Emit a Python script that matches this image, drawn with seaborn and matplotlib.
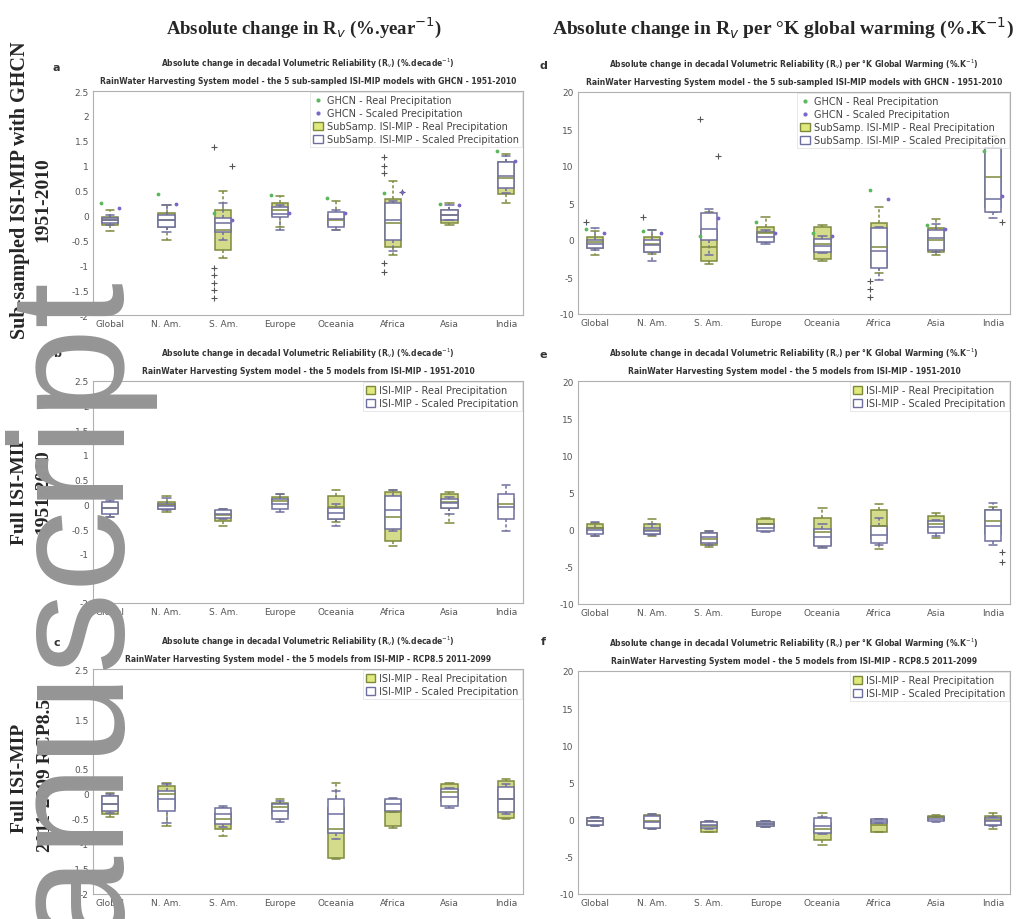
import numpy as np
import pandas as pd
import matplotlib
matplotlib.use("Agg")
import matplotlib.pyplot as plt
import seaborn as sns
from matplotlib.patches import Patch
from matplotlib.lines import Line2D

sns.set_style("white")
plt.rcParams['font.family'] = ['DejaVu Sans']

REGIONS = ['Global', 'N. Am.', 'S. Am.', 'Europe', 'Oceania', 'Africa', 'Asia', 'India']
KINDS = ['Real', 'Scaled']

# five-number summaries [whisker low, q1, median, q3, whisker high] per region
A_REAL = [[-0.32, -0.2, -0.1, -0.03, 0.1], [-0.5, -0.23, -0.1, 0.04, 0.2], [-0.85, -0.7, -0.3, 0.1, 0.5],
          [-0.23, 0.0, 0.1, 0.26, 0.4], [-0.3, -0.2, -0.1, 0.0, 0.3], [-0.8, -0.64, -0.15, 0.34, 0.7],
          [-0.2, -0.15, 0.0, 0.1, 0.24], [0.26, 0.44, 0.75, 1.08, 1.24]]
A_SCALED = [[-0.2, -0.16, -0.1, -0.06, 0.0], [-0.34, -0.23, -0.1, 0.0, 0.2], [-0.5, -0.33, -0.15, -0.06, 0.24],
            [-0.3, -0.04, 0.02, 0.16, 0.2], [-0.3, -0.23, -0.08, 0.07, 0.1], [-0.71, -0.5, -0.1, 0.24, 0.3],
            [-0.1, -0.1, 0.0, 0.1, 0.2], [0.45, 0.55, 0.8, 1.08, 1.2]]
A_REAL_OUT = [[], [], [1.38, -1.05, -1.2, -1.35, -1.5, -1.65], [], [], [0.85, 1.0, 1.18, -0.95, -1.14], [], []]
A_SCALED_OUT = [[], [], [1.0], [], [], [0.47], [], []]
GHCN_A_REAL = [0.24, 0.44, 0.05, 0.42, 0.35, 0.45, 0.22, 1.3]
GHCN_A_SCALED = [0.15, 0.22, -0.1, 0.05, 0.05, 0.47, 0.2, 1.1]

D_REAL = [[-2.0, -1.1, -0.3, 0.46, 1.2], [-1.9, -1.6, -0.5, 0.46, 1.3], [-3.3, -2.9, -1.0, 1.4, 3.8],
          [-0.3, 0.0, 0.9, 1.8, 3.15], [-2.8, -2.5, -0.5, 1.8, 2.0], [-4.5, -3.6, -1.0, 2.3, 4.5],
          [-2.0, -1.6, 0.0, 1.6, 2.9], [3.8, 4.5, 8.5, 12.4, 14.0]]
D_SCALED = [[-1.3, -1.1, -0.5, 0.0, 1.6], [-2.9, -1.6, -0.7, 0.0, 1.4], [-2.0, 0.0, 1.5, 3.6, 4.2],
            [-0.5, -0.3, 0.4, 1.1, 1.3], [-1.8, -1.6, -0.8, 0.2, 0.6], [-5.4, -3.8, -1.5, 1.6, 1.8],
            [-1.6, -1.3, 0.3, 1.4, 2.2], [3.0, 3.8, 5.5, 12.4, 13.5]]
D_REAL_OUT = [[2.4], [3.15], [16.4], [], [], [-5.5, -6.6, -7.7], [], []]
D_SCALED_OUT = [[], [], [11.3], [], [], [], [], [2.4]]
GHCN_D_REAL = [1.5, 1.2, 0.5, 2.5, 1.0, 6.8, 2.0, 12.0]
GHCN_D_SCALED = [1.0, 1.0, 3.0, 1.0, 0.5, 5.6, 1.5, 6.0]

B_REAL = [[-0.25, -0.17, -0.08, 0.0, 0.05], [-0.15, -0.1, -0.02, 0.04, 0.17], [-0.44, -0.34, -0.22, -0.13, -0.1],
          [-0.05, 0.0, 0.07, 0.14, 0.2], [-0.35, -0.3, -0.05, 0.17, 0.3], [-0.84, -0.74, -0.25, 0.24, 0.3],
          [-0.37, -0.07, 0.05, 0.2, 0.25], [-0.2, -0.1, 0.0, 0.1, 0.15]]
B_SCALED = [[-0.25, -0.2, -0.07, 0.04, 0.08], [-0.12, -0.1, -0.03, 0.0, 0.12], [-0.3, -0.28, -0.2, -0.12, -0.1],
            [-0.15, -0.1, 0.0, 0.1, 0.2], [-0.44, -0.3, -0.18, -0.07, 0.0], [-0.55, -0.51, -0.12, 0.17, 0.3],
            [-0.2, -0.07, 0.02, 0.1, 0.15], [-0.55, -0.3, -0.05, 0.2, 0.4]]

E_REAL = [[-0.9, -0.4, 0.2, 0.7, 0.9], [-0.8, -0.6, 0.0, 0.7, 1.4], [-2.3, -2.0, -1.2, -0.4, -0.2],
          [0.1, 0.3, 0.8, 1.4, 1.6], [-2.3, -2.0, -0.3, 1.6, 2.9], [-2.6, -1.3, 0.5, 2.7, 3.4],
          [-1.1, -0.2, 0.8, 1.8, 2.3], [-0.8, -0.6, 1.2, 2.7, 3.0]]
E_SCALED = [[-0.8, -0.6, -0.1, 0.25, 1.0], [-0.7, -0.6, -0.2, 0.25, 0.7], [-2.0, -1.8, -1.0, -0.4, -0.2],
            [-0.3, -0.2, 0.2, 0.7, 0.8], [-2.4, -2.2, -1.0, 0.04, 0.7], [-2.0, -1.8, -0.7, 0.5, 1.6],
            [-0.8, -0.4, 0.3, 1.1, 1.3], [-2.0, -1.5, 0.5, 2.7, 3.6]]
E_SCALED_OUT = [[], [], [], [], [], [], [], [-3.0, -4.3]]

C_REAL = [[-0.45, -0.4, -0.2, -0.03, 0.03], [-0.63, -0.27, 0.0, 0.17, 0.23], [-0.83, -0.7, -0.5, -0.37, -0.27],
          [-0.5, -0.4, -0.25, -0.17, -0.1], [-1.3, -1.27, -0.7, -0.27, 0.23], [-0.67, -0.63, -0.35, -0.13, -0.1],
          [-0.17, -0.13, 0.05, 0.2, 0.23], [-0.5, -0.47, -0.1, 0.27, 0.3]]
C_SCALED = [[-0.37, -0.33, -0.2, -0.03, 0.0], [-0.57, -0.33, -0.1, 0.07, 0.2], [-0.65, -0.6, -0.4, -0.27, -0.23],
            [-0.55, -0.5, -0.33, -0.2, -0.13], [-0.9, -0.77, -0.4, -0.1, 0.07], [-0.36, -0.33, -0.2, -0.1, -0.07],
            [-0.27, -0.23, -0.05, 0.1, 0.13], [-0.4, -0.35, -0.1, 0.15, 0.2]]

F_REAL = [[-0.8, -0.7, -0.2, 0.2, 0.3], [-1.2, -1.1, -0.2, 0.67, 0.8], [-1.7, -1.6, -0.9, -0.27, -0.2],
          [-1.0, -0.9, -0.6, -0.3, -0.2], [-3.4, -2.7, -1.3, -0.5, 0.9], [-1.7, -1.6, -0.7, 0.0, 0.1],
          [-0.1, 0.0, 0.3, 0.5, 0.6], [-1.3, -0.7, 0.0, 0.45, 0.9]]
F_SCALED = [[-0.8, -0.7, -0.2, 0.2, 0.3], [-1.2, -1.1, -0.3, 0.5, 0.7], [-1.2, -1.1, -0.7, -0.3, -0.2],
            [-1.0, -0.9, -0.6, -0.3, -0.2], [-1.9, -1.8, -0.8, 0.2, 0.4], [-0.5, -0.45, -0.2, 0.1, 0.15],
            [-0.3, -0.2, 0.1, 0.35, 0.4], [-0.8, -0.7, -0.2, 0.2, 0.3]]

LEFT_TICKS = [-2, -1.5, -1, -0.5, 0, 0.5, 1, 1.5, 2, 2.5]
LEFT_LABELS = ['-2', '-1.5', '-1', '-0.5', '0', '0.5', '1', '1.5', '2', '2.5']
RIGHT_TICKS = [-10, -5, 0, 5, 10, 15, 20]
RIGHT_LABELS = ['-10', '-5', '0', '5', '10', '15', '20']

T1_LEFT = "Absolute change in decadal Volumetric Reliability (R$_v$) (%.decade$^{-1}$)"
T1_RIGHT = "Absolute change in decadal Volumetric Reliability (R$_v$) per \u00b0K Global Warming (%.K$^{-1}$)"
T2_ROW1 = "RainWater Harvesting System model - the 5 sub-sampled ISI-MIP models with GHCN - 1951-2010"
T2_ROW2 = "RainWater Harvesting System model - the 5 models from ISI-MIP - 1951-2010"
T2_ROW3 = "RainWater Harvesting System model - the 5 models from ISI-MIP - RCP8.5 2011-2099"

REAL_FILL, REAL_EDGE = '#dfe97c', '#7d8a3e'
SCALED_FILL, SCALED_EDGE = '#ffffff', '#6f6f9f'
GHCN_REAL_C, GHCN_SCALED_C = '#5cb85c', '#7a66c9'
OFFS = {'Real': -0.16, 'Scaled': 0.16}

W, H = 1021, 920
fig = plt.figure(figsize=(W / 100, H / 100), dpi=100)


def add_ax(x0, y0, x1, y1):
    return fig.add_axes([x0 / W, 1 - y1 / H, (x1 - x0) / W, (y1 - y0) / H])


def panel(ax, real, scaled, ylim, ticks, labels, t1, t2, legend_kind,
          real_out=None, scaled_out=None, ghcn_real=None, ghcn_scaled=None):
    rows = []
    for kind, summ in (('Real', real), ('Scaled', scaled)):
        for reg, vals in zip(REGIONS, summ):
            for v in vals:
                rows.append({'region': reg, 'kind': kind, 'value': v})
    df = pd.DataFrame(rows)
    for kind, fill, edge in (('Real', REAL_FILL, REAL_EDGE), ('Scaled', SCALED_FILL, SCALED_EDGE)):
        sns.boxplot(data=df[df['kind'] == kind], x='region', y='value', hue='kind',
                    hue_order=KINDS, order=REGIONS, palette={'Real': REAL_FILL, 'Scaled': SCALED_FILL},
                    linecolor=edge, width=0.64, gap=0.55, whis=(0, 100), showfliers=False,
                    linewidth=1.1, legend=False, ax=ax,
                    whiskerprops={'linestyle': (0, (2, 1.5))})
    for kind, outs, edge in (('Real', real_out, REAL_EDGE), ('Scaled', scaled_out, SCALED_EDGE)):
        if outs is None:
            continue
        for i, vals in enumerate(outs):
            if vals:
                ax.scatter([i + OFFS[kind]] * len(vals), vals, marker='+', s=14,
                           color='#555555', linewidths=0.8, zorder=4)
    if ghcn_real is not None:
        ax.scatter(np.arange(len(REGIONS)) + OFFS['Real'], ghcn_real, marker='.', s=12,
                   color=GHCN_REAL_C, zorder=5)
        ax.scatter(np.arange(len(REGIONS)) + OFFS['Scaled'], ghcn_scaled, marker='.', s=12,
                   color=GHCN_SCALED_C, zorder=5)
    ax.set_xlim(-0.3, 7.3)
    ax.set_ylim(*ylim)
    ax.set_yticks(ticks)
    ax.set_yticklabels(labels)
    ax.set_xlabel('')
    ax.set_ylabel('')
    ax.tick_params(axis='both', labelsize=6.5, colors='#555555', length=2, direction='in', pad=3)
    for sp in ax.spines.values():
        sp.set_visible(True)
        sp.set_color('#b0b0b0')
        sp.set_linewidth(0.8)
    ax.text(0.5, 1.095, t1, transform=ax.transAxes, ha='center', va='bottom', fontsize=5.5,
            fontweight='bold', color='#333333')
    ax.text(0.5, 1.025, t2, transform=ax.transAxes, ha='center', va='bottom', fontsize=5.5,
            fontweight='bold', color='#333333')
    if legend_kind == 'ghcn':
        handles = [Line2D([], [], ls='', marker='.', color=GHCN_REAL_C, ms=4),
                   Line2D([], [], ls='', marker='.', color=GHCN_SCALED_C, ms=4),
                   Patch(facecolor=REAL_FILL, edgecolor=REAL_EDGE),
                   Patch(facecolor=SCALED_FILL, edgecolor=SCALED_EDGE)]
        labs = ['GHCN - Real Precipitation', 'GHCN - Scaled Precipitation',
                'SubSamp. ISI-MIP - Real Precipitation', 'SubSamp. ISI-MIP - Scaled Precipitation']
    else:
        handles = [Patch(facecolor=REAL_FILL, edgecolor=REAL_EDGE),
                   Patch(facecolor=SCALED_FILL, edgecolor=SCALED_EDGE)]
        labs = ['ISI-MIP - Real Precipitation', 'ISI-MIP - Scaled Precipitation']
    leg = ax.legend(handles, labs, loc='upper right', fontsize=7, frameon=True,
                    handlelength=1.0, handleheight=0.9, handletextpad=0.4, labelspacing=0.3,
                    borderpad=0.3, borderaxespad=0.15, fancybox=False)
    leg.get_frame().set_edgecolor('#dddddd')
    leg.get_frame().set_linewidth(0.6)
    for t in leg.get_texts():
        t.set_color('#444444')


ax_a = add_ax(93, 92, 523, 316)
ax_d = add_ax(578, 93, 1010, 315)
ax_b = add_ax(93, 382, 523, 604)
ax_e = add_ax(578, 382, 1010, 605)
ax_c = add_ax(93, 670, 523, 895)
ax_f = add_ax(578, 672, 1010, 895)

panel(ax_a, A_REAL, A_SCALED, (-2, 2.5), LEFT_TICKS, LEFT_LABELS, T1_LEFT, T2_ROW1, 'ghcn',
      A_REAL_OUT, A_SCALED_OUT, GHCN_A_REAL, GHCN_A_SCALED)
panel(ax_d, D_REAL, D_SCALED, (-10, 20), RIGHT_TICKS, RIGHT_LABELS, T1_RIGHT, T2_ROW1, 'ghcn',
      D_REAL_OUT, D_SCALED_OUT, GHCN_D_REAL, GHCN_D_SCALED)
panel(ax_b, B_REAL, B_SCALED, (-2, 2.5), LEFT_TICKS, LEFT_LABELS, T1_LEFT, T2_ROW2, 'isi')
panel(ax_e, E_REAL, E_SCALED, (-10, 20), RIGHT_TICKS, RIGHT_LABELS, T1_RIGHT, T2_ROW2, 'isi',
      None, E_SCALED_OUT)
panel(ax_c, C_REAL, C_SCALED, (-2, 2.5), LEFT_TICKS, LEFT_LABELS, T1_LEFT, T2_ROW3, 'isi')
panel(ax_f, F_REAL, F_SCALED, (-10, 20), RIGHT_TICKS, RIGHT_LABELS, T1_RIGHT, T2_ROW3, 'isi')


def ftext(x, y, s, **kw):
    fig.text(x / W, 1 - y / H, s, **kw)


serif = ['Liberation Serif', 'DejaVu Serif']
ftext(304, 28, "Absolute change in R$_v$ (%.year$^{-1}$)", ha='center', va='center',
      fontsize=13.5, fontweight='bold', family=serif)
ftext(783, 28, "Absolute change in R$_v$ per \u00b0K global warming (%.K$^{-1}$)", ha='center', va='center',
      fontsize=14, fontweight='bold', family=serif)

ftext(20, 190, "Sub-sampled ISI-MIP with GHCN", rotation=90, ha='center', va='center',
      fontsize=14.5, fontweight='bold', family=serif)
ftext(43, 200, "1951-2010", rotation=90, ha='center', va='center', fontsize=14, fontweight='bold', family=serif)
ftext(20, 490, "Full ISI-MIP", rotation=90, ha='center', va='center', fontsize=14, fontweight='bold', family=serif)
ftext(43, 492, "1951-2010", rotation=90, ha='center', va='center', fontsize=14, fontweight='bold', family=serif)
ftext(20, 778, "Full ISI-MIP", rotation=90, ha='center', va='center', fontsize=14, fontweight='bold', family=serif)
ftext(45, 775, "2011-2099 RCP8.5", rotation=90, ha='center', va='center', fontsize=14, fontweight='bold', family=serif)

for letter, x, y in (('a', 56, 68), ('d', 543, 66), ('b', 57, 354), ('e', 543, 355), ('c', 57, 643), ('f', 543, 642)):
    ftext(x, y, letter, ha='center', va='center', fontsize=8, fontweight='bold', color='#333333')

# watermark
fig.text(117 / W, -20 / H, "anuscript", rotation=90, rotation_mode='anchor', ha='left', va='baseline',
         fontsize=118, color='#959595', family=['Liberation Sans', 'DejaVu Sans'], zorder=100)

fig.savefig('out.png', dpi=100)
